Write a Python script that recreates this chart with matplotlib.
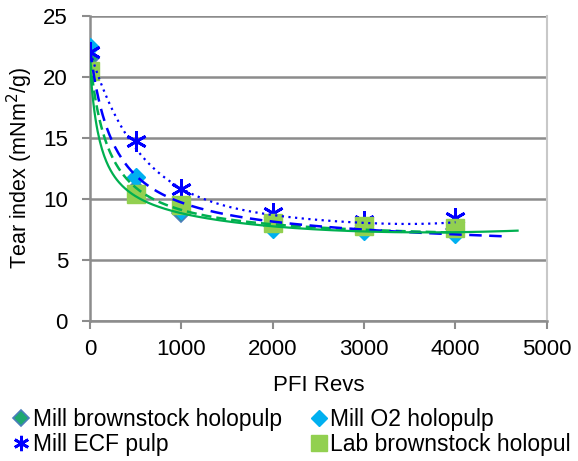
import numpy as np
import matplotlib
matplotlib.use("Agg")
import matplotlib.pyplot as plt
from matplotlib.lines import Line2D

plt.rcParams["font.family"] = ["Liberation Sans", "DejaVu Sans"]

# PFI revolutions
revs = [0, 500, 1000, 2000, 3000, 4000]

# tear index, mNm2/g
mill_brownstock = [21.5, 10.8, 8.8, 7.8, 7.6, 7.5]
mill_o2 = [22.4, 11.8, 9.1, 7.5, 7.4, 7.1]
mill_ecf = [22.0, 14.7, 10.8, 8.8, 8.2, 8.4]
lab_brownstock = [20.5, 10.4, 9.5, 8.0, 7.8, 7.6]

# trend lines (revs, tear index)
brown_trend_x = [0, 500, 1000, 2000, 3000, 4000]
brown_trend_y = [21.3, 11.0, 8.95, 7.9, 7.45, 7.3]
o2_trend_x = [0, 500, 1000, 2000, 2300, 3000, 4000, 4570]
o2_trend_y = [22.2, 11.8, 9.9, 8.1, 7.85, 7.35, 7.1, 6.98]
ecf_trend_x = [0, 500, 1000, 2000, 2300, 3000, 3700, 4000]
ecf_trend_y = [22.0, 14.3, 10.6, 8.8, 8.4, 8.04, 7.82, 8.17]
lab_trend_x = [0, 500, 1000, 2000, 2300, 3000, 4000, 4680]
lab_trend_y = [20.8, 10.2, 8.8, 7.75, 7.6, 7.3, 7.25, 7.4]


def smooth_curve(x, y, extra=0):
    # y = a + b/(x+c) + d*x + e*x^2 ..., c picked by least squares
    x = np.asarray(x, float)
    y = np.asarray(y, float)

    def basis(v, c):
        cols = [np.ones_like(v), 1.0 / (v + c)]
        for k in range(1, extra + 1):
            cols.append((v / 1000.0) ** k)
        return np.column_stack(cols)

    best = None
    for c in np.linspace(20, 1500, 400):
        A = basis(x, c)
        coef, *_ = np.linalg.lstsq(A, y, rcond=None)
        err = np.sum((A @ coef - y) ** 2)
        if best is None or err < best[0]:
            best = (err, c, coef)
    _, c, coef = best
    xx = np.linspace(x.min(), x.max(), 400)
    return xx, basis(xx, c) @ coef


fig = plt.figure(figsize=(5.78, 4.61), dpi=100)
ax = fig.add_axes([0.156, 0.304, 0.790, 0.662])

ax.plot(revs, mill_brownstock, linestyle="none", marker="D", markersize=9,
        markerfacecolor="#1FA870", markeredgecolor="#4A7EBB", markeredgewidth=1.2, zorder=3)
ax.plot(revs, mill_o2, linestyle="none", marker="D", markersize=9,
        markerfacecolor="#00B0F0", markeredgecolor="#00B0F0", zorder=3)
ax.plot(revs, mill_ecf, linestyle="none", marker=(6, 2, 0), markersize=15,
        markeredgecolor="#0000FF", markeredgewidth=2, zorder=3)
ax.plot(revs, lab_brownstock, linestyle="none", marker="s", markersize=13,
        markerfacecolor="#92D050", markeredgecolor="#92D050", zorder=4)

# trend lines
xx, yy = smooth_curve(brown_trend_x, brown_trend_y)
ax.plot(xx, yy, color="#00B050", lw=1.8, linestyle=(0, (4, 2)), zorder=5)
xx, yy = smooth_curve(o2_trend_x, o2_trend_y, extra=1)
ax.plot(xx, yy, color="#0000FF", lw=1.8, linestyle=(0, (5, 3)), zorder=5)
xx, yy = smooth_curve(ecf_trend_x, ecf_trend_y, extra=3)
ax.plot(xx, yy, color="#0000FF", lw=1.6, linestyle=(0, (1, 2)), zorder=5)
xx, yy = smooth_curve(lab_trend_x, lab_trend_y, extra=2)
ax.plot(xx, yy, color="#00B050", lw=1.6, zorder=5)

ax.set_xlim(0, 5000)
ax.set_ylim(0, 25)
ax.set_xticks(np.arange(0, 5001, 1000))
ax.set_yticks(np.arange(0, 26, 5))
ax.yaxis.grid(True, color="#8C8C8C", lw=1.8)
ax.set_axisbelow(True)
ax.spines["top"].set_visible(False)
ax.spines["right"].set_color("#C8C8C8")
ax.spines["right"].set_linewidth(1.5)
ax.spines["left"].set_color("#8C8C8C")
ax.spines["bottom"].set_color("#8C8C8C")
ax.spines["left"].set_linewidth(1.8)
ax.spines["bottom"].set_linewidth(1.8)
ax.tick_params(axis="both", colors="#8C8C8C", width=1.5, length=6, labelsize=16,
               labelcolor="black")
ax.tick_params(axis="y", pad=10)
ax.tick_params(axis="x", pad=7)

ax.set_xlabel("PFI Revs", fontsize=16, labelpad=11)
ax.set_ylabel("Tear index (mNm$^{2}$/g)", fontsize=15.5, labelpad=6)

handles = [
    Line2D([], [], linestyle="none", marker="D", markersize=8,
           markerfacecolor="#1FA870", markeredgecolor="#4A7EBB", markeredgewidth=1.2),
    Line2D([], [], linestyle="none", marker=(6, 2, 0), markersize=11,
           markeredgecolor="#0000FF", markeredgewidth=2),
    Line2D([], [], linestyle="none", marker="D", markersize=8,
           markerfacecolor="#00B0F0", markeredgecolor="#00B0F0"),
    Line2D([], [], linestyle="none", marker="s", markersize=11,
           markerfacecolor="#92D050", markeredgecolor="#92D050"),
]
labels = ["Mill brownstock holopulp", "Mill ECF pulp",
          "Mill O2 holopulp", "Lab brownstock holopul"]
fig.legend(handles, labels, ncol=2, loc="upper left", bbox_to_anchor=(0.025, 0.116),
           frameon=False, fontsize=16.5, handlelength=0.6, handletextpad=0.2,
           columnspacing=1.3, labelspacing=0.12, borderaxespad=0, borderpad=0.0)

fig.savefig("out.png", dpi=100)
